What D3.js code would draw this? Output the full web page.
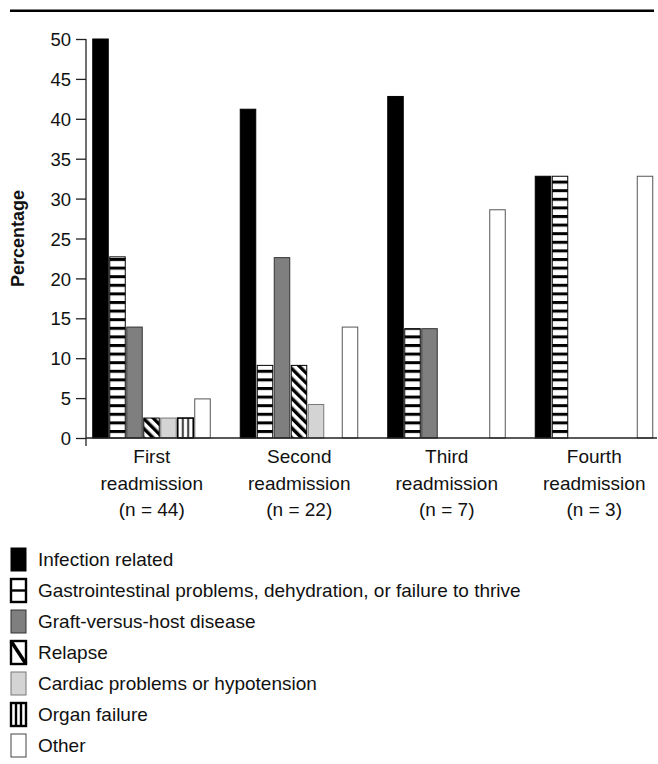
<!DOCTYPE html>
<meta charset="utf-8">
<head>
  <style>
    body {margin: 0; background-color: #ffffff;}
    svg text {font-family: "Liberation Sans", Arial, sans-serif; fill: #111;}
  </style>
  <title></title>
</head>
<body>
  <script src="https://d3js.org/d3.v7.min.js"></script>
  <script>

  const width = 658, height = 764;

  // data
  const groups = ["First", "Second", "Third", "Fourth"];
  const groupN = ["(n = 44)", "(n = 22)", "(n = 7)", "(n = 3)"];
  const causes = ["Infection related",
    "Gastrointestinal problems, dehydration, or failure to thrive",
    "Graft-versus-host disease", "Relapse",
    "Cardiac problems or hypotension", "Organ failure", "Other"];
  const infection = [50, 41.2, 42.8, 32.8];
  const gastro    = [22.7, 9.1, 13.7, 32.8];
  const gvhd      = [13.9, 22.6, 13.7, 0];
  const relapse   = [2.5, 9.1, 0, 0];
  const cardiac   = [2.5, 4.2, 0, 0];
  const organ     = [2.5, 0, 0, 0];
  const other     = [4.9, 13.9, 28.6, 32.8];
  const yTicks = [0, 5, 10, 15, 20, 25, 30, 35, 40, 45, 50];

  const series = [infection, gastro, gvhd, relapse, cardiac, organ, other];

  var svg = d3.select("body").append("svg")
    .attr("width", width)
    .attr("height", height);

  var defs = svg.append("defs");

  // horizontal stripes
  var ph = defs.append("pattern").attr("id", "hstripe")
    .attr("patternUnits", "userSpaceOnUse")
    .attr("width", 10).attr("height", 8.6);
  ph.append("rect").attr("width", 10).attr("height", 8.6).attr("fill", "#fff");
  ph.append("rect").attr("y", 0).attr("width", 10).attr("height", 3).attr("fill", "#000");

  // diagonal stripes "\"
  var pd = defs.append("pattern").attr("id", "dstripe")
    .attr("patternUnits", "userSpaceOnUse")
    .attr("width", 7).attr("height", 7)
    .attr("patternTransform", "rotate(-45)");
  pd.append("rect").attr("width", 7).attr("height", 7).attr("fill", "#fff");
  pd.append("rect").attr("width", 3.4).attr("height", 7).attr("fill", "#000");

  // vertical lines, relative to the bar
  var pv = defs.append("pattern").attr("id", "vstripe")
    .attr("patternUnits", "objectBoundingBox")
    .attr("patternContentUnits", "objectBoundingBox")
    .attr("width", 1).attr("height", 1);
  pv.append("rect").attr("width", 1).attr("height", 1).attr("fill", "#fff");
  pv.append("rect").attr("x", 0.28).attr("width", 0.1).attr("height", 1).attr("fill", "#000");
  pv.append("rect").attr("x", 0.62).attr("width", 0.1).attr("height", 1).attr("fill", "#000");

  const fills = ["#000", "url(#hstripe)", "#7f7f7f", "url(#dstripe)", "#d4d4d4", "url(#vstripe)", "#fff"];
  const strokes = ["#000", "#000", "#333", "#000", "#777", "#000", "#555"];

  var x0 = d3.scaleBand().domain(groups).range([78, 668]);
  var x1 = d3.scaleBand().domain(d3.range(causes.length)).range([14.25, 133.25]);
  var y = d3.scaleLinear().domain([0, 50]).range([438, 39]);

  // top rule
  svg.append("line")
    .attr("x1", 10).attr("x2", 654)
    .attr("y1", 10.7).attr("y2", 10.7)
    .style("stroke", "#000").style("stroke-width", 2.6);

  // bars
  var bars = [];
  series.forEach(function(vals, s) {
    vals.forEach(function(v, g) {
      if (v > 0) bars.push({s: s, g: g, v: v});
    });
  });

  svg.append("g").selectAll("rect")
    .data(bars)
    .enter()
    .append("rect")
      .attr("x", d => x0(groups[d.g]) + x1(d.s) + 0.5)
      .attr("y", d => y(d.v))
      .attr("width", x1.bandwidth() - 1.5)
      .attr("height", d => y(0) - y(d.v))
      .attr("fill", d => fills[d.s])
      .style("stroke", d => strokes[d.s])
      .style("stroke-width", d => (d.s == 5 ? 1.6 : 1));

  // y axis
  var yAxis = svg.append("g")
    .attr("transform", "translate(86,0)")
    .call(d3.axisLeft(y).tickValues(yTicks).tickSize(10).tickSizeOuter(0).tickPadding(5));
  yAxis.select(".domain").remove();
  yAxis.selectAll(".tick line").style("stroke", "#222").style("stroke-width", 1.3);
  yAxis.selectAll(".tick text")
    .style("font-size", "18.5px")
    .attr("dy", "0.36em");

  svg.append("line")
    .attr("x1", 86).attr("x2", 86)
    .attr("y1", y(50)).attr("y2", 446)
    .style("stroke", "#222").style("stroke-width", 1.3);

  // x axis
  svg.append("line")
    .attr("x1", 86).attr("x2", 657)
    .attr("y1", y(0)).attr("y2", y(0))
    .style("stroke", "#222").style("stroke-width", 1.3);

  var xAxis = svg.append("g")
    .attr("transform", "translate(0," + y(0) + ")")
    .call(d3.axisBottom(x0).tickSize(0).tickPadding(0));
  xAxis.select(".domain").remove();
  xAxis.selectAll(".tick text").each(function(d, i) {
    var t = d3.select(this).text(null).attr("y", 0).attr("dy", null)
      .style("font-size", "19px");
    [d, "readmission", groupN[i]].forEach(function(line, k) {
      t.append("tspan").attr("x", 0).attr("y", 25 + k * 26.5).text(line);
    });
  });

  // y label
  svg.append("text")
    .attr("transform", "translate(24," + ((y(0) + y(50)) / 2) + ") rotate(-90)")
    .attr("text-anchor", "middle")
    .style("font-size", "18px")
    .style("font-weight", "bold")
    .text("Percentage");

  // legend
  var legend = svg.append("g").selectAll("g")
    .data(causes)
    .enter()
    .append("g")
      .attr("transform", (d, i) => "translate(11," + (548 + i * 31) + ")");

  legend.append("rect")
    .attr("width", 15).attr("height", 23)
    .attr("fill", (d, i) => (i == 0 ? "#000" : i == 2 ? "#7f7f7f" : i == 4 ? "#d4d4d4" : "#fff"))
    .style("stroke", (d, i) => (i == 2 ? "#333" : i == 4 ? "#777" : i == 6 ? "#444" : "#000"))
    .style("stroke-width", (d, i) => (i == 1 || i == 3 || i == 5 ? 2.4 : 1));

  legend.filter((d, i) => i == 1).append("line")
    .attr("x1", 0).attr("x2", 15).attr("y1", 11.5).attr("y2", 11.5)
    .style("stroke", "#000").style("stroke-width", 2.4);
  legend.filter((d, i) => i == 3).append("line")
    .attr("x1", 0).attr("x2", 15).attr("y1", 0).attr("y2", 23)
    .style("stroke", "#000").style("stroke-width", 3.5);
  legend.filter((d, i) => i == 5).selectAll("line.v")
    .data([5, 10])
    .enter().append("line")
    .attr("x1", d => d).attr("x2", d => d).attr("y1", 0).attr("y2", 23)
    .style("stroke", "#000").style("stroke-width", 2.4);

  legend.append("text")
    .attr("x", 27).attr("y", 11.5)
    .attr("dy", "0.36em")
    .style("font-size", "19px")
    .text(d => d);

  </script>
</body>
</html>
